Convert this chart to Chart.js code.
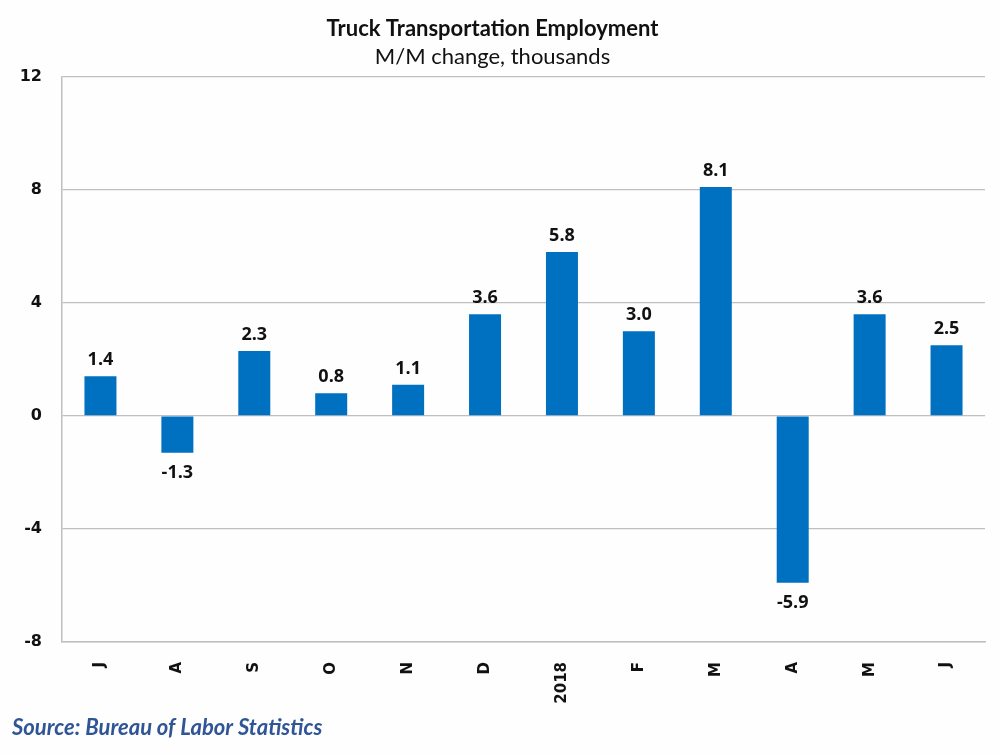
<!DOCTYPE html>
<html>
<head>
<meta charset="utf-8">
<script src="https://cdn.jsdelivr.net/npm/chart.js@4/dist/chart.umd.min.js"></script>
<style>
  html, body { margin: 0; padding: 0; background: #fefefe; }
  #wrap { width: 1000px; height: 755px; position: relative; }
</style>
</head>
<body>
<div id="wrap"><canvas id="truck-chart" width="1000" height="755"></canvas></div>
<script>
const months = ['J', 'A', 'S', 'O', 'N', 'D', '2018', 'F', 'M', 'A', 'M', 'J'];
const changes = [1.4, -1.3, 2.3, 0.8, 1.1, 3.6, 5.8, 3.0, 8.1, -5.9, 3.6, 2.5];
const yTicks = [-8, -4, 0, 4, 8, 12];

const barBlue = '#0070C0';
const gridGray = '#BFBFBF';

// bar value labels + source note
const valueLabels = {
    id: 'valueLabels',
    afterDatasetsDraw(chart) {
        const ctx = chart.ctx;
        const meta = chart.getDatasetMeta(0);
        ctx.save();
        ctx.font = 'bold 18px "Open Sans"';
        ctx.fillStyle = '#111';
        ctx.textAlign = 'center';
        ctx.textBaseline = 'alphabetic';
        meta.data.forEach((bar, i) => {
            const v = changes[i];
            if (v >= 0) {
                ctx.fillText(v.toFixed(1), bar.x, bar.y - 11);
            } else {
                ctx.fillText(v.toFixed(1), bar.x, bar.y + 25);
            }
        });
        ctx.restore();
    },
    afterDraw(chart) {
        const ctx = chart.ctx;
        ctx.save();
        ctx.font = 'italic bold 22px Lato';
        ctx.fillStyle = '#2F5597';
        ctx.textAlign = 'left';
        ctx.textBaseline = 'middle';
        ctx.fillText('Source: Bureau of Labor Statistics', 12, 728);
        ctx.restore();
    }
};

const ctx = document.getElementById('truck-chart').getContext('2d');
new Chart(ctx, {
    type: 'bar',
    data: {
        labels: months,
        datasets: [{
            data: changes,
            backgroundColor: barBlue,
            borderWidth: 0,
            barPercentage: 0.416,
            categoryPercentage: 1.0
        }]
    },
    options: {
        responsive: false,
        animation: false,
        devicePixelRatio: 1,
        layout: { padding: { left: 0, right: 15, top: 0, bottom: 30 } },
        plugins: {
            legend: { display: false },
            tooltip: { enabled: false },
            title: {
                display: true,
                text: 'Truck Transportation Employment',
                color: '#111',
                font: { family: 'Lato', size: 22, weight: 'bold', lineHeight: 1.2 },
                padding: { top: 16, bottom: 1 }
            },
            subtitle: {
                display: true,
                text: 'M/M change, thousands',
                color: '#111',
                font: { family: 'Lato', size: 22, lineHeight: 1.2 },
                padding: { top: 0, bottom: 7 }
            }
        },
        scales: {
            x: {
                grid: { display: false },
                border: { display: true, color: gridGray, width: 1.5 },
                ticks: {
                    color: '#111',
                    font: { family: 'DejaVu Sans', size: 15, weight: 'bold' },
                    minRotation: 90,
                    maxRotation: 90,
                    autoSkip: false,
                    padding: 12
                },
                afterFit(scale) { scale.height = 755 - 30 - 642; }
            },
            y: {
                min: -8,
                max: 12,
                afterBuildTicks(scale) { scale.ticks = yTicks.map(v => ({ value: v })); },
                grid: { color: gridGray, lineWidth: 1.2, drawTicks: false },
                border: { display: true, color: gridGray, width: 1.5 },
                ticks: {
                    color: '#111',
                    font: { family: 'DejaVu Sans', size: 16, weight: 'bold' },
                    padding: 20
                },
                afterFit(scale) { scale.width = 62; }
            }
        }
    },
    plugins: [valueLabels]
});
</script>
</body>
</html>
